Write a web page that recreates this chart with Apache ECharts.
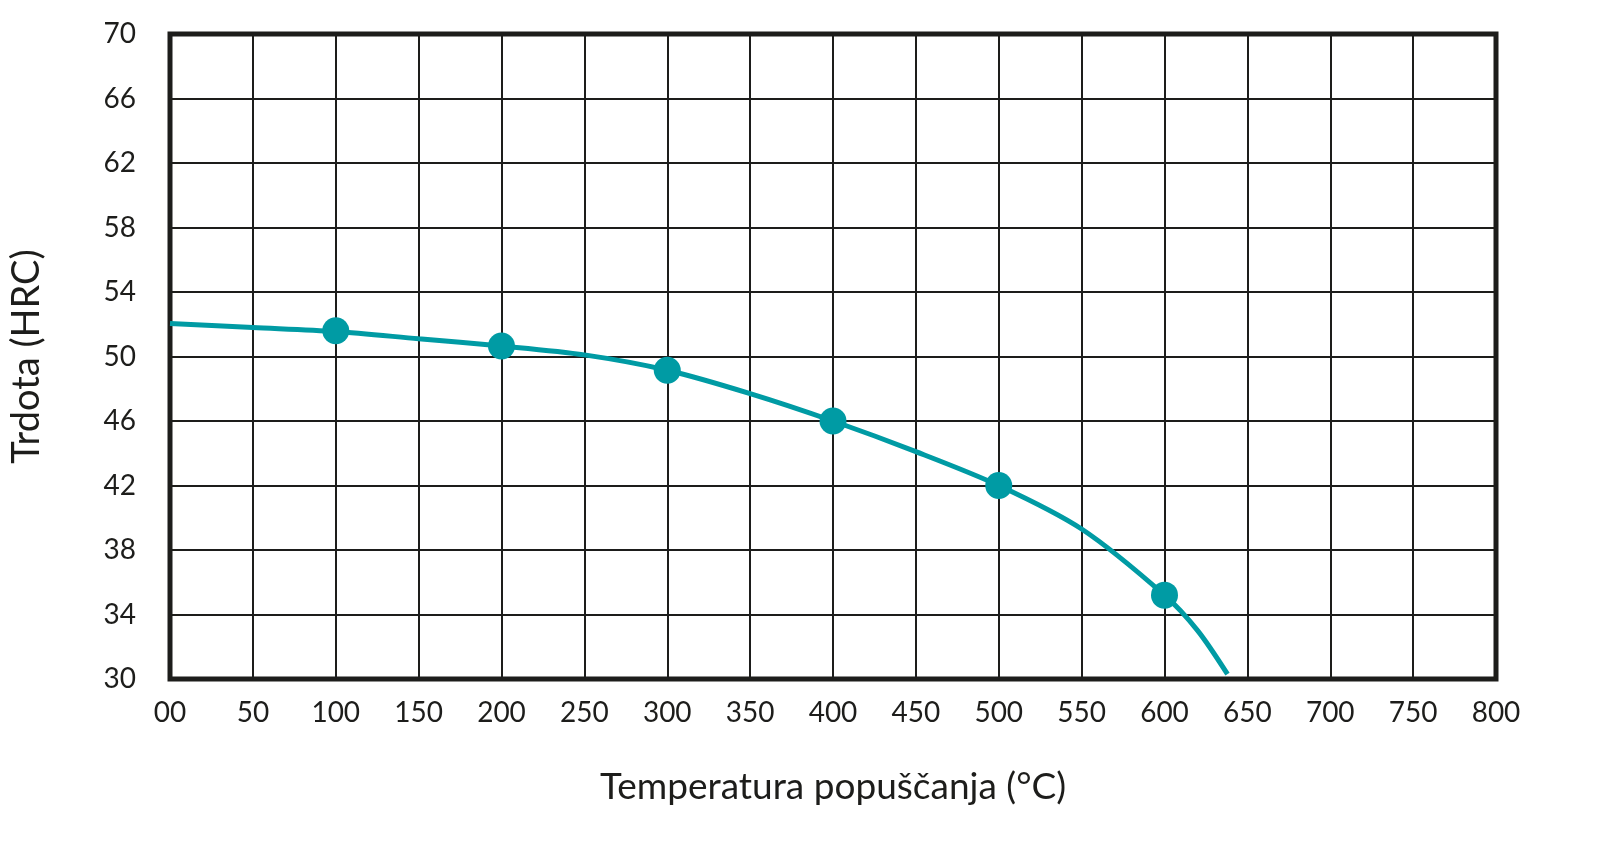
<!DOCTYPE html>
<html>
<head>
<meta charset="utf-8">
<script src="https://cdn.jsdelivr.net/npm/echarts@6/dist/echarts.min.js"></script>
<style>
html,body{margin:0;padding:0;background:#fff;}
#chart{width:1621px;height:862px;}
</style>
</head>
<body>
<div id="chart"></div>
<script>
// krivulja popuščanja - odčitano s slike
var curveTemp = [0, 50, 100, 150, 200, 250, 300, 350, 400, 450, 500, 550, 600, 620, 638];
var curveHrc = [52.05, 51.8, 51.55, 51.1, 50.65, 50.1, 49.15, 47.7, 46.0, 44.1, 42.0, 39.3, 35.2, 33.0, 30.3];
var pointTemp = [100, 200, 300, 400, 500, 600];
var pointHrc = [51.6, 50.65, 49.15, 46.0, 42.0, 35.2];
var xTickLabels = ['00', '50', '100', '150', '200', '250', '300', '350', '400', '450', '500', '550', '600', '650', '700', '750', '800'];
var yTickLabels = ['30', '34', '38', '42', '46', '50', '54', '58', '62', '66', '70'];

var teal = '#009ba4';
var ink = '#1d1d1b';
var font = 'Lato';

var init = function(){
	var myChart = echarts.init(document.getElementById('chart'));
	var curve = curveTemp.map(function(t, i){ return [t, curveHrc[i]]; });
	var points = pointTemp.map(function(t, i){ return [t, pointHrc[i]]; });
	var option = {
		animation: false,
		grid: {
			left: 167,
			right: 125,
			top: 34,
			bottom: 183,
			show: true,
			borderColor: ink,
			borderWidth: 5
		},
		xAxis: {
			type: 'value',
			min: 0,
			max: 800,
			interval: 50,
			name: 'Temperatura popuščanja (°C)',
			nameLocation: 'middle',
			nameGap: 90,
			nameTextStyle: {color: ink, fontFamily: font, fontSize: 37},
			axisLine: {show: false},
			axisTick: {show: false},
			axisLabel: {
				color: ink, fontFamily: font, fontSize: 28, margin: 20,
				formatter: function(v){ return xTickLabels[Math.round(v / 50)]; }
			},
			splitLine: {lineStyle: {color: ink, width: 2}}
		},
		yAxis: {
			type: 'value',
			min: 30,
			max: 70,
			interval: 4,
			name: 'Trdota (HRC)',
			nameLocation: 'middle',
			nameGap: 124,
			nameTextStyle: {color: ink, fontFamily: font, fontSize: 38},
			axisLine: {show: false},
			axisTick: {show: false},
			axisLabel: {
				color: ink, fontFamily: font, fontSize: 28, margin: 34,
				formatter: function(v){ return yTickLabels[Math.round((v - 30) / 4)]; }
			},
			splitLine: {lineStyle: {color: ink, width: 2}}
		},
		series: [
			{
				type: 'line',
				data: curve,
				smooth: 0.3,
				showSymbol: false,
				lineStyle: {color: teal, width: 5},
				z: 3
			},
			{
				type: 'scatter',
				data: points,
				symbolSize: 27,
				itemStyle: {color: teal, opacity: 1},
				z: 4
			}
		]
	};
	myChart.setOption(option);
};

init();
</script>
</body>
</html>
